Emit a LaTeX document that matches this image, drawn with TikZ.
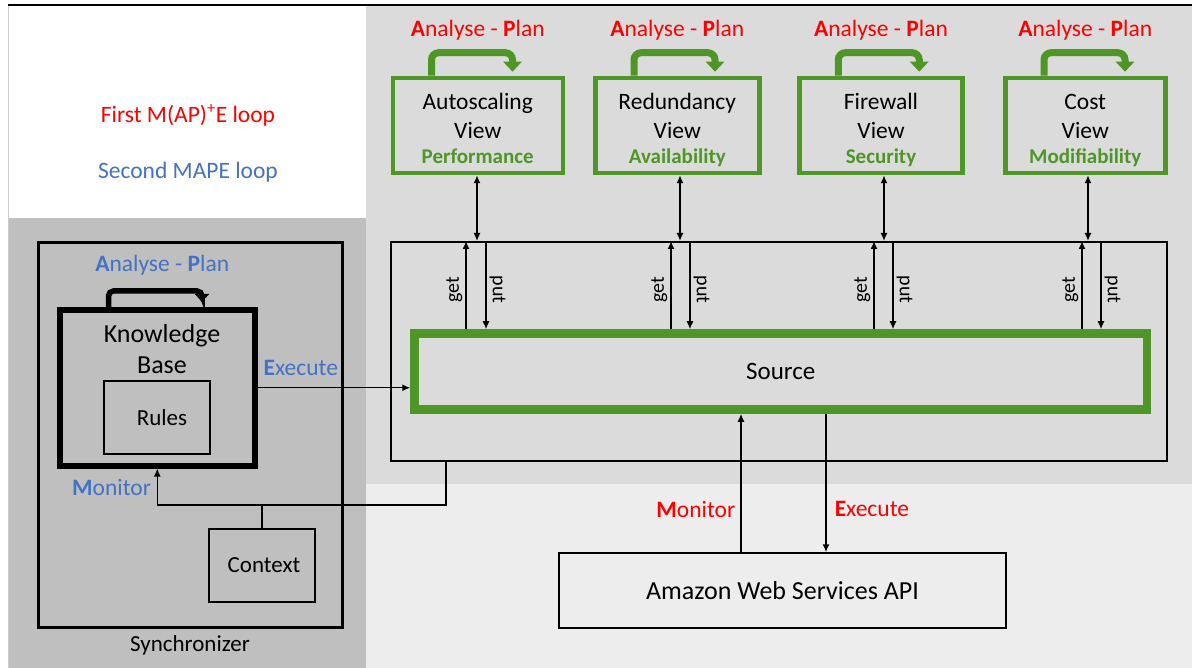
\documentclass[tikz,border=0pt]{standalone}
\usepackage{fontspec}
\setmainfont{Carlito}
\definecolor{loop red}{HTML}{FF0000}
\definecolor{loop blue}{HTML}{4472C4}
\definecolor{view green}{HTML}{4E9626}
\definecolor{sync grey}{HTML}{BFBFBF}
\definecolor{cloud grey}{HTML}{DBDBDB}
\definecolor{api grey}{HTML}{EDEDED}
\usetikzlibrary{positioning,arrows.meta,calc}
\tikzstyle{line} = [line width=1.5pt]
\tikzstyle{line>} = [line,-{Latex[length=8pt, width=7pt]}]
\tikzstyle{<line>} = [line,{Latex[length=8pt, width=7pt]}-{Latex[length=8pt, width=7pt]}]
\tikzstyle{view node} = [draw=view green, line width=4.5pt, minimum height=95pt, inner sep=0pt, align=center, font=\fontsize{23.5}{29}\selectfont]
\tikzstyle{green loop} = [view green, line width=7pt, rounded corners=7pt, -{Triangle[length=10pt, width=18pt]}]
\tikzstyle{black loop} = [line width=5.5pt, rounded corners=5pt, -{Triangle[length=8pt, width=14pt]}]
\tikzstyle{plain box} = [draw, line width=1.5pt, inner sep=0pt, font=\fontsize{23}{28}\selectfont]
\tikzstyle{red text} = [text=loop red, inner sep=0pt, font=\fontsize{23.5}{28}\selectfont]
\tikzstyle{blue text} = [text=loop blue, inner sep=0pt, font=\fontsize{23.5}{28}\selectfont]
\tikzstyle{flow text} = [font=\fontsize{20}{24}\selectfont, inner sep=3pt]
\newcommand{\AP}{\textbf{A}nalyse - \textbf{P}lan}
\newcommand{\quality}[1]{\textcolor{view green}{\fontsize{21}{24}\selectfont\bfseries #1}\rule[-6pt]{0pt}{1pt}}

\begin{document}
\begin{tikzpicture}[x=1pt,y=-1pt]
        \useasboundingbox (0,0) rectangle (1192,668);
        % backgrounds
        \fill[white] (0,0) rectangle (1192,668);
        \fill[sync grey] (8,218) rectangle (366,668);
        \fill[cloud grey] (366,5) rectangle (1192,483);
        \fill[api grey] (366,483) rectangle (1192,668);
        \draw[black!20] (8,5) -- (8,668);
        \draw[black!15] (366,483) -- (1192,483);
        \draw[line width=1.5pt] (8,5) -- (1192,5);

        \node[red text] (first) at (188,115) {First M(AP)\textsuperscript{+}E loop};
        \node[blue text] (second) at (188,172) {Second MAPE loop};

        % synchronizer
        \node[draw, line width=3pt, minimum width=304pt, minimum height=384pt] (sync) at (190,435) {};
        \node[below=7pt of sync, inner sep=0pt, font=\fontsize{23}{28}\selectfont] (sync-label) {Synchronizer};
        \node[draw, line width=6pt, minimum width=194.5pt, minimum height=155.5pt] (kb) at (157.25,387.75) {};
        \node[align=center, inner sep=0pt, font=\fontsize{26}{31}\selectfont] (kb-text) at (162,349) {Knowledge\\Base};
        \node[plain box, minimum width=106pt, minimum height=73pt] (rules) at (157,417.5) {\hspace*{10pt}Rules};
        \node[plain box, minimum width=106pt, minimum height=73pt] (context) at (262,565.5) {\hspace*{4pt}Context};
        \node[blue text] (kb-ap) at ([xshift=5pt,yshift=42pt]kb.north) {\AP};
        \node[blue text, anchor=south west] (kb-exec) at ([xshift=6pt,yshift=12pt]kb.east) {\textbf{E}xecute};
        \node[blue text, anchor=east] (kb-mon) at ([xshift=-6pt,yshift=-19pt]kb.south) {\textbf{M}onitor};
        \draw[black loop] ([xshift=51.5pt]kb.north west) -- ++(0,-16) -- ++(93.5,0) -- ++(0,11);

        % views
        \node[view node, minimum width=170pt] (autoscaling) at (477.75,125.5) {\rule{0pt}{28pt}Autoscaling\\View\\[-4pt]\quality{Performance}};
        \node[view node, minimum width=164pt] (redundancy) at (677.25,125.5) {\rule{0pt}{28pt}Redundancy\\View\\[-4pt]\quality{Availability}};
        \node[view node, minimum width=163pt] (firewall) at (881,125.5) {\rule{0pt}{28pt}Firewall\\View\\[-4pt]\quality{Security}};
        \node[view node, minimum width=160pt] (cost) at (1085.25,125.5) {\rule{0pt}{28pt}Cost\\View\\[-4pt]\quality{Modifiability}};

        \node[red text, above=35pt of autoscaling] (autoscaling-ap) {\AP};
        \node[red text, above=35pt of redundancy] (redundancy-ap) {\AP};
        \node[red text, above=35pt of firewall] (firewall-ap) {\AP};
        \node[red text, above=35pt of cost] (cost-ap) {\AP};

        \draw[green loop] ([xshift=41pt]autoscaling.north west) -- ++(0,-23) -- ++(81,0) -- ++(0,19);
        \draw[green loop] ([xshift=41pt]redundancy.north west) -- ++(0,-23) -- ++(81,0) -- ++(0,19);
        \draw[green loop] ([xshift=41pt]firewall.north west) -- ++(0,-23) -- ++(81,0) -- ++(0,19);
        \draw[green loop] ([xshift=41pt]cost.north west) -- ++(0,-23) -- ++(81,0) -- ++(0,19);

        % source
        \node[draw, line width=2pt, minimum width=776pt, minimum height=219pt] (container) at (779,351.5) {};
        \node[draw=view green, line width=8.5pt, minimum width=732.5pt, minimum height=76pt, font=\fontsize{25}{30}\selectfont] (source) at (780.75,371.5) {Source};
        \node[plain box, minimum width=447pt, minimum height=75pt, font=\fontsize{26}{31}\selectfont] (aws) at (782.5,590.5) {Amazon Web Services API};

        \coordinate (col1) at (477,0);
        \coordinate (col2) at (680,0);
        \coordinate (col3) at (884,0);
        \coordinate (col4) at (1088,0);
        \coordinate (get1) at (466,0);
        \coordinate (put1) at (486,0);
        \coordinate (get2) at (671,0);
        \coordinate (put2) at (690,0);
        \coordinate (get3) at (874,0);
        \coordinate (put3) at (893,0);
        \coordinate (get4) at (1082,0);
        \coordinate (put4) at (1101,0);

        \draw[<line>] (col1 |- autoscaling.south) -- (col1 |- container.north);
        \draw[<line>] (col2 |- redundancy.south) -- (col2 |- container.north);
        \draw[<line>] (col3 |- firewall.south) -- (col3 |- container.north);
        \draw[<line>] (col4 |- cost.south) -- (col4 |- container.north);

        \draw[line>] (get1 |- source.north) -- (get1 |- container.north) node[flow text, pos=0.45, rotate=90, anchor=south] (get1-text) {get};
        \draw[line>] (put1 |- container.north) -- (put1 |- source.north) node[flow text, pos=0.55, rotate=-90, anchor=south] (put1-text) {put};
        \draw[line>] (get2 |- source.north) -- (get2 |- container.north) node[flow text, pos=0.45, rotate=90, anchor=south] (get2-text) {get};
        \draw[line>] (put2 |- container.north) -- (put2 |- source.north) node[flow text, pos=0.55, rotate=-90, anchor=south] (put2-text) {put};
        \draw[line>] (get3 |- source.north) -- (get3 |- container.north) node[flow text, pos=0.45, rotate=90, anchor=south] (get3-text) {get};
        \draw[line>] (put3 |- container.north) -- (put3 |- source.north) node[flow text, pos=0.55, rotate=-90, anchor=south] (put3-text) {put};
        \draw[line>] (get4 |- source.north) -- (get4 |- container.north) node[flow text, pos=0.45, rotate=90, anchor=south] (get4-text) {get};
        \draw[line>] (put4 |- container.north) -- (put4 |- source.north) node[flow text, pos=0.55, rotate=-90, anchor=south] (put4-text) {put};

        % monitor / execute
        \coordinate (mon) at (741,0);
        \coordinate (exe) at (826,0);
        \coordinate (monbend) at (446,505);
        \draw[line>] (mon |- aws.north) -- (mon |- source.south) node[red text, pos=0.31, anchor=east, xshift=-5pt] (aws-mon) {\textbf{M}onitor};
        \draw[line>] (exe |- source.south) -- (exe |- aws.north) node[red text, pos=0.69, anchor=west, xshift=8pt] (aws-exec) {\textbf{E}xecute};
        \draw[line>] (kb.east) -- (kb.east -| source.west);
        \draw[line>] (container.south -| monbend) -- (monbend) -| (kb.south);
        \draw[line] (context.north) -- (context.north |- monbend);
\end{tikzpicture}
\end{document}
